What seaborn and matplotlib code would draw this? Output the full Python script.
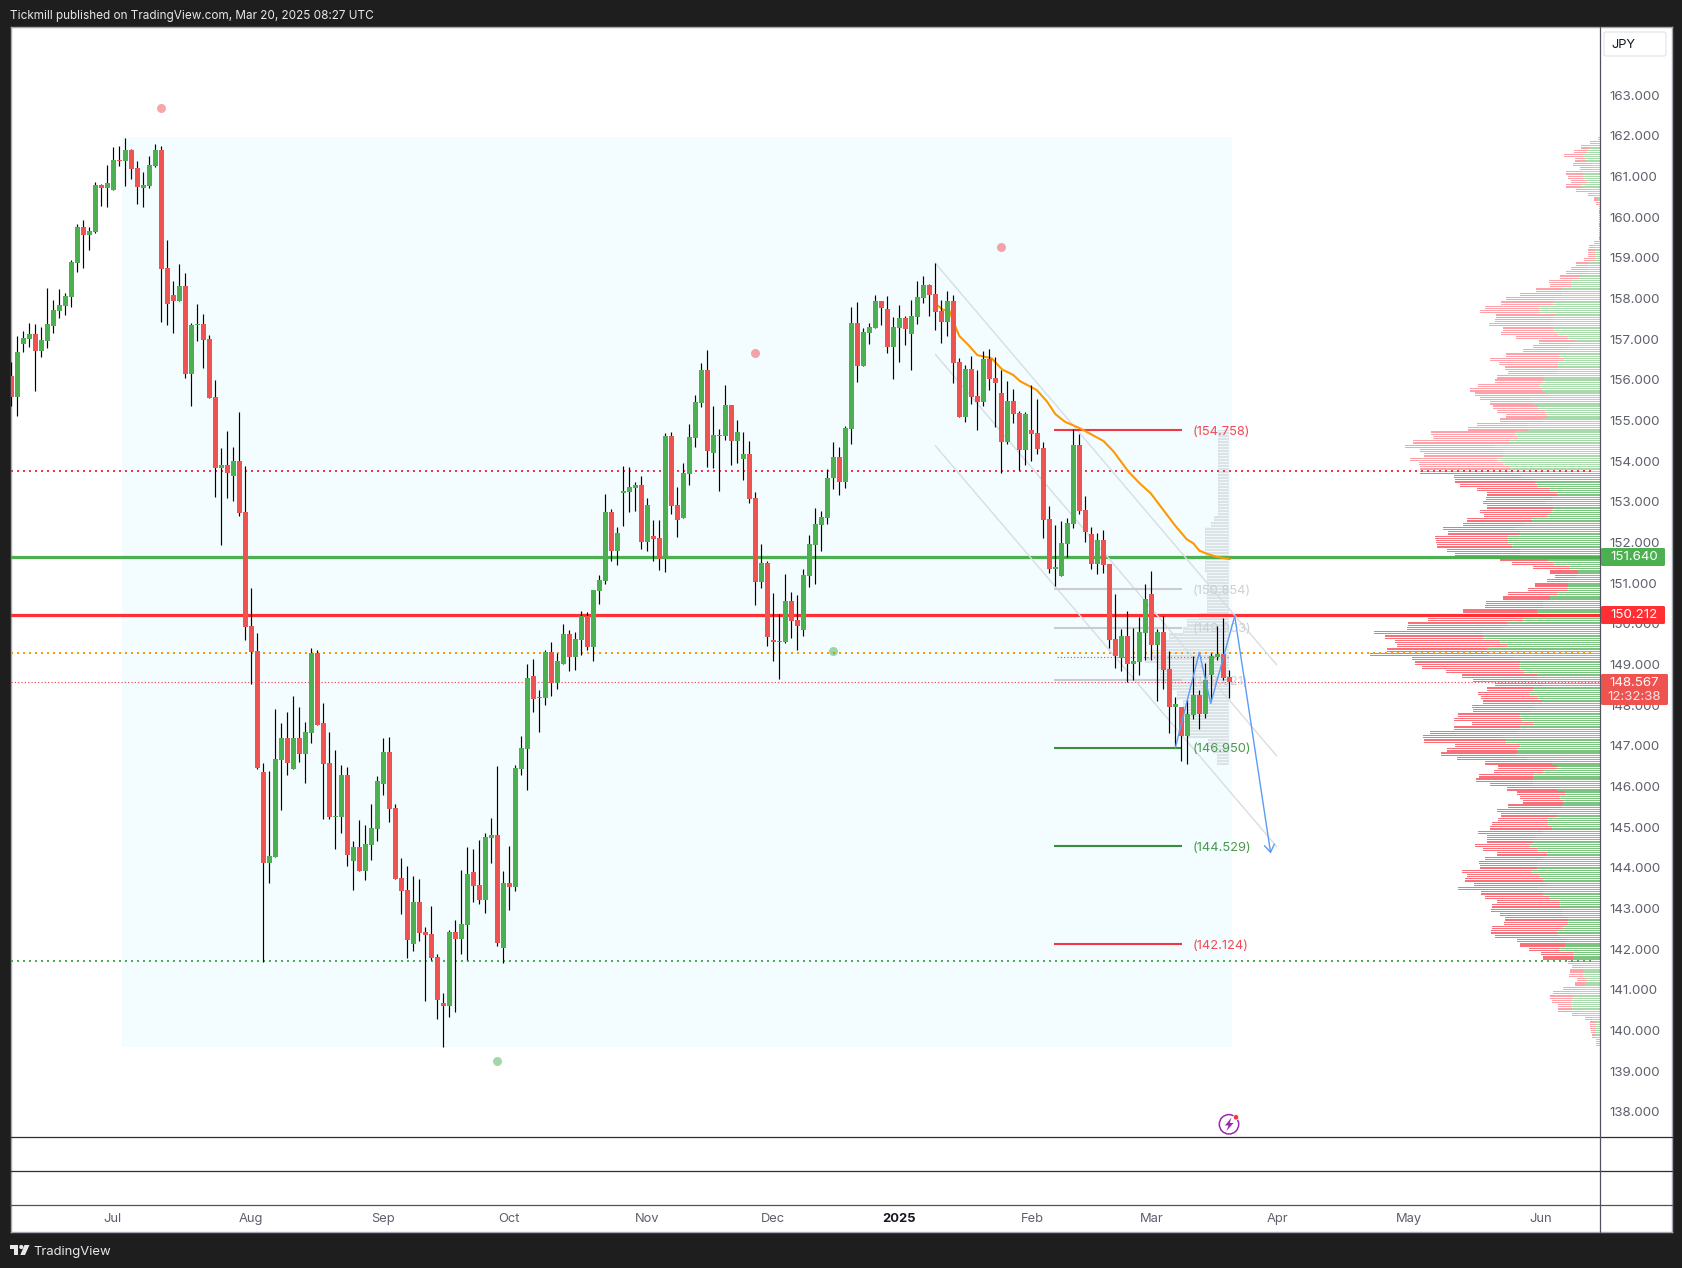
"""
USDJPY style daily candle chart with volume profile, drawn from values read off the picture.
"""

import numpy as np
import matplotlib.pyplot as plt
import seaborn as sns
from matplotlib.patches import Circle, FancyBboxPatch, Polygon, Rectangle
from matplotlib.transforms import blended_transform_factory

bar_open = [
    156.10, 155.59, 156.88, 157.01, 157.13, 156.71, 156.96, 157.33, 157.70, 157.82,
    158.04, 158.88, 159.76, 159.57, 159.64, 160.80, 160.72, 160.67, 161.41, 161.39,
    161.66, 161.21, 160.72, 160.77, 161.26, 161.66, 158.75, 158.09, 157.94, 158.31,
    156.15, 157.35, 157.37, 157.01, 155.58, 153.83, 153.91, 153.64, 154.01, 152.75,
    149.95, 149.33, 146.35, 144.11, 144.26, 146.65, 147.19, 146.43, 147.19, 146.80,
    147.31, 149.28, 147.56, 146.58, 145.25, 145.25, 146.28, 144.16, 144.51, 143.92,
    144.56, 144.95, 146.06, 146.85, 145.47, 143.75, 143.45, 142.12, 143.16, 142.42,
    142.37, 141.80, 140.67, 140.60, 142.42, 142.25, 142.59, 143.89, 143.57, 143.21,
    144.73, 144.80, 142.02, 143.62, 143.52, 146.43, 146.92, 148.71, 148.17, 148.17,
    149.31, 148.54, 149.01, 149.75, 149.18, 149.60, 150.19, 149.43, 150.80, 151.05,
    152.75, 151.79, 153.22, 153.24, 153.34, 153.42, 152.01, 152.16, 152.11, 151.60,
    154.62, 152.92, 152.61, 153.69, 154.57, 155.43, 156.25, 154.20, 154.62, 154.62,
    155.38, 154.50, 154.06, 154.18, 153.10, 151.03, 151.50, 149.60, 149.55, 149.55,
    150.56, 150.09, 149.85, 151.18, 151.94, 152.43, 152.61, 153.59, 154.11, 153.49,
    154.79, 157.40, 156.34, 157.15, 157.28, 157.94, 157.74, 156.81, 157.28, 157.52,
    157.13, 157.55, 158.01, 158.33, 158.11, 157.69, 157.42, 157.94, 156.44, 155.09,
    156.27, 155.60, 155.46, 156.51, 156.05, 155.68, 154.47, 155.48, 155.19, 154.28,
    154.77, 154.69, 154.32, 152.58, 151.35, 151.18, 151.96, 152.46, 154.40, 152.80,
    152.21, 151.47, 152.06, 151.47, 149.63, 149.16, 149.70, 149.01, 149.06, 149.77,
    150.73, 149.48, 149.80, 148.89, 147.95, 147.95, 147.24, 147.76, 148.25, 147.78,
    148.74, 149.18, 149.26, 148.69,
]
bar_high = [
    156.44, 157.08, 157.20, 157.40, 157.37, 157.30, 158.26, 157.97, 158.24, 158.14,
    158.95, 159.84, 159.93, 159.76, 160.87, 160.82, 161.29, 161.73, 161.75, 161.95,
    161.68, 161.39, 161.11, 161.51, 161.80, 161.75, 159.44, 158.44, 158.85, 158.63,
    157.40, 157.87, 157.62, 157.11, 156.00, 154.33, 154.74, 154.35, 155.21, 153.88,
    150.88, 149.77, 146.58, 146.38, 147.90, 147.56, 147.83, 148.22, 147.95, 147.58,
    149.41, 149.36, 148.05, 147.34, 146.90, 146.53, 146.48, 144.66, 145.17, 145.05,
    145.57, 146.26, 147.19, 147.21, 145.57, 144.24, 144.04, 143.80, 143.72, 142.54,
    143.06, 141.88, 140.92, 142.47, 142.71, 143.94, 144.51, 144.46, 144.68, 144.85,
    145.22, 146.50, 143.92, 144.53, 146.53, 147.24, 149.01, 149.13, 148.37, 149.36,
    149.55, 149.28, 150.00, 149.85, 149.80, 150.31, 150.29, 150.83, 151.20, 153.19,
    152.83, 152.38, 153.88, 153.86, 153.49, 153.64, 153.10, 152.56, 152.56, 154.70,
    154.72, 153.37, 153.96, 154.92, 155.63, 156.42, 156.74, 155.36, 154.79, 155.88,
    155.38, 155.01, 154.72, 154.50, 153.24, 151.96, 151.55, 150.76, 150.24, 151.23,
    150.78, 150.71, 151.35, 152.19, 152.85, 152.78, 153.81, 154.47, 154.35, 154.87,
    157.79, 157.92, 157.28, 157.40, 158.09, 157.94, 158.06, 157.55, 157.84, 157.57,
    157.97, 158.43, 158.56, 158.36, 158.88, 157.97, 158.19, 158.09, 156.54, 156.37,
    156.59, 156.24, 156.71, 156.76, 156.56, 156.24, 155.97, 155.78, 155.23, 155.21,
    155.87, 155.53, 154.47, 152.90, 152.43, 152.53, 152.60, 154.79, 154.67, 153.14,
    152.38, 152.23, 152.31, 151.47, 150.73, 149.87, 150.31, 149.90, 150.17, 150.98,
    151.30, 149.87, 150.19, 149.33, 148.20, 147.95, 148.13, 149.21, 148.37, 149.04,
    149.28, 149.95, 150.14, 148.87,
]
bar_low = [
    155.36, 155.11, 156.69, 156.81, 155.73, 156.56, 156.79, 157.15, 157.52, 157.60,
    157.79, 158.66, 158.75, 159.20, 159.61, 160.28, 160.25, 160.67, 161.26, 160.77,
    160.94, 160.33, 160.25, 160.72, 161.24, 157.42, 157.35, 157.15, 157.94, 156.05,
    155.36, 156.96, 156.30, 155.56, 153.12, 151.94, 153.10, 153.02, 152.65, 149.60,
    148.52, 146.43, 141.68, 143.62, 144.26, 145.42, 146.28, 146.43, 146.60, 146.08,
    147.07, 147.51, 145.20, 145.20, 144.46, 144.85, 144.04, 143.45, 143.92, 143.70,
    144.19, 144.66, 145.79, 145.13, 143.72, 142.86, 141.78, 141.95, 142.20, 140.72,
    141.73, 140.28, 139.59, 140.33, 140.45, 141.88, 141.73, 143.16, 143.11, 142.89,
    144.11, 142.07, 141.65, 142.96, 143.43, 146.28, 145.91, 147.83, 147.34, 148.00,
    148.22, 148.40, 149.01, 148.84, 148.86, 149.23, 149.36, 149.08, 150.49, 150.98,
    151.55, 151.45, 152.41, 152.75, 152.78, 151.84, 151.79, 151.55, 151.33, 151.27,
    152.70, 152.14, 152.61, 153.42, 154.35, 155.34, 153.86, 153.84, 153.27, 154.52,
    153.91, 153.96, 153.54, 152.97, 150.46, 150.88, 149.45, 149.09, 148.64, 149.53,
    149.65, 149.36, 149.70, 150.91, 150.98, 151.79, 152.46, 153.32, 153.17, 153.34,
    154.42, 155.95, 156.34, 156.88, 157.28, 157.35, 156.66, 156.02, 156.44, 156.86,
    156.24, 157.38, 157.89, 157.57, 157.23, 156.91, 157.08, 155.92, 155.09, 154.97,
    155.41, 154.77, 155.36, 155.75, 154.84, 153.71, 154.42, 154.94, 153.78, 153.91,
    154.00, 154.18, 152.11, 151.25, 150.93, 151.18, 151.64, 152.36, 152.70, 152.01,
    151.35, 151.23, 151.25, 149.41, 148.91, 148.84, 148.57, 148.62, 148.74, 149.11,
    149.11, 148.10, 148.40, 147.31, 146.97, 146.63, 146.55, 147.66, 147.41, 147.68,
    148.12, 149.11, 148.62, 148.17,
]
bar_close = [
    155.59, 156.69, 157.03, 157.13, 156.71, 156.98, 157.37, 157.72, 157.84, 158.07,
    158.90, 159.76, 159.57, 159.66, 160.80, 160.72, 160.84, 161.41, 161.39, 161.66,
    161.19, 160.75, 160.80, 161.29, 161.66, 158.73, 157.87, 157.94, 158.31, 156.15,
    157.35, 157.37, 156.98, 155.56, 153.83, 153.91, 153.71, 154.01, 152.73, 149.92,
    149.31, 146.45, 144.11, 144.29, 146.67, 147.19, 146.58, 147.19, 146.80, 147.34,
    149.28, 147.51, 146.55, 145.25, 145.27, 146.28, 144.31, 144.51, 143.92, 144.58,
    144.98, 146.13, 146.85, 145.44, 143.72, 143.43, 142.22, 143.16, 142.39, 142.34,
    141.78, 140.75, 140.60, 142.42, 142.25, 142.61, 143.84, 143.55, 143.21, 144.75,
    144.80, 142.15, 143.62, 143.52, 146.45, 146.94, 148.67, 148.15, 148.20, 149.31,
    148.54, 149.08, 149.75, 149.18, 149.63, 150.19, 149.43, 150.83, 151.08, 152.75,
    151.79, 152.24, 153.27, 153.37, 153.42, 152.01, 152.92, 152.09, 151.60, 154.62,
    152.90, 152.56, 153.71, 154.60, 155.46, 156.25, 154.25, 154.65, 154.65, 155.38,
    154.50, 154.72, 154.18, 153.07, 151.03, 151.50, 149.68, 149.55, 149.58, 150.56,
    150.07, 149.95, 151.20, 151.96, 152.46, 152.63, 153.59, 154.11, 153.49, 154.82,
    157.40, 156.34, 157.18, 157.30, 157.94, 157.77, 156.81, 157.30, 157.52, 157.25,
    157.57, 158.04, 158.33, 158.09, 157.67, 157.42, 157.94, 156.42, 155.09, 156.27,
    155.58, 155.46, 156.51, 156.02, 155.92, 154.47, 155.48, 155.16, 154.28, 155.16,
    154.67, 154.30, 152.55, 151.35, 151.40, 151.99, 152.48, 154.40, 152.78, 152.26,
    151.47, 152.06, 151.45, 149.60, 149.21, 149.70, 149.01, 149.08, 149.80, 150.61,
    149.48, 149.80, 148.87, 147.95, 148.03, 147.24, 147.78, 148.25, 147.78, 148.62,
    149.21, 149.26, 148.67, 148.567,
]

# right hand volume profile, top to bottom (total and buy volume per row)
vol_upper = [2, 10, 19, 26, 36, 25, 27, 20, 34, 32, 29, 34, 24, 12, 6, 4, 1, 1, 1, 1, 1, 1, 1, 1,
             6, 11, 12, 12, 16, 24, 29, 34, 40, 51, 50, 64, 80, 94, 99, 115, 120, 104, 105, 111,
             97, 99, 84, 61, 67, 77, 94, 110, 101, 95, 92, 103, 105, 122, 130, 125, 120, 110,
             107, 103, 94, 100, 123, 132, 169, 167, 187]
buy_upper = [1, 4, 11, 13, 17, 14, 8, 7, 17, 17, 13, 18, 12, 7, 2, 1, .5, .5, .5, .5, .5, .5, .5, .5,
             2, 5, 5, 5, 5, 12, 12, 12, 20, 28, 28, 38, 38, 44, 47, 61, 61, 45, 47, 50,
             47, 43, 32, 25, 30, 37, 41, 37, 43, 42, 42, 56, 57, 60, 58, 55, 70, 67,
             62, 55, 52, 57, 72, 72, 85, 82, 90]
vol_middle = [195, 180, 176, 190, 181, 180, 180, 146, 145, 140, 123, 113, 114, 117, 113, 120, 116,
              133, 137, 157, 152, 165, 164, 163, 153, 145, 100, 88, 67, 50, 45, 53, 65, 72, 92,
              97, 114, 115, 137, 150, 172, 192, 193, 226, 215, 205, 203, 213, 230, 188, 185, 178,
              154, 138, 127, 105, 113, 122, 119, 117, 128, 127, 142, 146, 128, 146, 170, 177]
buy_middle = [105, 97, 97, 103, 97, 90, 90, 78, 65, 63, 50, 43, 48, 55, 47, 48, 52,
              68, 75, 85, 80, 92, 92, 88, 80, 80, 52, 47, 30, 22, 23, 32, 32, 32, 43,
              50, 57, 57, 63, 57, 77, 93, 97, 118, 117, 100, 93, 113, 112, 87, 80, 80,
              77, 63, 63, 57, 67, 70, 62, 58, 67, 70, 80, 78, 67, 80, 83, 97]
vol_lower = [176, 145, 153, 159, 143, 115, 102, 106, 121, 124, 110, 93, 83, 80, 77, 92, 103, 99,
             102, 108, 110, 122, 113, 113, 125, 117, 103, 115, 121, 120, 138, 133, 135, 126, 142,
             119, 115, 103, 108, 109, 100, 95, 96, 108, 109, 105, 83, 80, 71, 59, 57, 32, 28, 30,
             31, 23, 25, 37, 47, 50, 48, 42, 42, 28, 15, 10, 10, 9, 8, 4, 4]
buy_lower = [94, 80, 83, 83, 73, 48, 43, 57, 67, 67, 67, 43, 35, 40, 37, 38, 51, 43,
             52, 53, 48, 58, 65, 67, 70, 63, 53, 58, 63, 63, 68, 60, 57, 53, 62,
             57, 50, 41, 40, 38, 38, 32, 32, 37, 43, 41, 35, 35, 40, 27, 27, 20, 17, 17,
             17, 12, 15, 23, 30, 27, 29, 29, 28, 22, 8, 4, 4, 4, 4, 2, 1]

# small visible range profile behind the last candles
range_price = [154.77, 152.64, 152.51, 152.39, 151.24, 150.26, 150.13, 149.93, 149.77, 149.60, 149.36,
               149.19, 149.03, 148.86, 148.62, 148.37, 148.13, 147.88, 147.55, 147.31, 147.18,
               146.98, 146.81, 146.53]
range_width = [1.95, 2.6, 3.0, 4.0, 3.8, 5.0, 7.0, 7.8, 10.0, 11.0, 13.2, 14.0, 12.0, 11.5, 10.0, 8.7,
               7.8, 7.5, 7.3, 7.0, 3.5, 2.7, 2.0, 2.0]

ma_bar = [154.3, 155.3, 156.3, 157.0, 158.0, 159.5, 161.0, 163.4, 165.1, 167.0, 168.1, 170.9, 172.6,
          174.0, 175.6, 178.1, 182.0, 183.7, 186.2, 188.1, 189.9, 192.0, 193.9, 195.9, 197.0, 198.0,
          199.5, 200.9, 203.1]
ma_price = [157.84, 157.72, 157.72, 157.43, 157.08, 156.86, 156.61, 156.53, 156.26, 156.12, 155.97,
            155.75, 155.47, 155.16, 154.97, 154.81, 154.50, 154.24, 153.74, 153.45, 153.21, 152.80,
            152.43, 152.08, 151.98, 151.80, 151.71, 151.65, 151.59]

arrow_bar = [194.0, 198.0, 199.9, 203.9, 209.9]
arrow_price = [146.95, 149.30, 148.04, 150.19, 144.35]

channel_bar = [154.0, 210.9]
channel_upper = [158.87, 148.99]
channel_middle = [156.63, 146.75]
channel_lower = [154.38, 144.52]

pivot_high_bar = [24.95, 123.9, 164.9]
pivot_high_price = [162.68, 156.65, 159.28]
pivot_low_bar = [80.9, 136.9]
pivot_low_price = [139.24, 149.33]

target_levels = [154.758, 150.854, 149.903, 148.621, 146.950, 144.529, 142.124]
target_labels = ["(154.758)", "(150.854)", "(149.903)", "(148.621)", "(146.950)", "(144.529)", "(142.124)"]
target_colors = ["#f23645", "#c9ccd1", "#c9ccd1", "#c9ccd1", "#388e3c", "#388e3c", "#f23645"]

month_pos = [16.9, 39.9, 61.9, 82.9, 105.9, 127.0, 147.9, 170.1, 190.1, 211.0, 232.9, 254.9]
month_labels = ["Jul", "Aug", "Sep", "Oct", "Nov", "Dec", "2025", "Feb", "Mar", "Apr", "May", "Jun"]
price_ticks = list(range(138, 164))

GREEN = "#4caf50"
RED = "#ef5350"
SHADE = "#f3fcfe"
W, H = 1682, 1268
LEFT, RIGHT, TOP, CHART_BOTTOM = 10.5, 1600, 27, 1137.3


def px_rect(x0, y0, x1, y1):
    return [x0 / W, 1 - y1 / H, (x1 - x0) / W, (y1 - y0) / H]


sns.set_theme(style="white")
plt.rcParams["font.family"] = ["Inter", "DejaVu Sans"]

fig = plt.figure(figsize=(W / 100, H / 100), dpi=100, facecolor="#1e1e1e")

# white panel everything sits on
ax_bg = fig.add_axes(px_rect(LEFT, TOP, 1671.7, 1232), zorder=0)
ax_bg.set_xticks([])
ax_bg.set_yticks([])
ax_bg.set_facecolor("white")
for s in ax_bg.spines.values():
    s.set_color("#a3a6af")
    s.set_linewidth(1)

xlim = (-0.14, 264.78)
ylim = (137.37, 164.68)

# volume profile goes under the main axes
ax_vp = fig.add_axes(px_rect(LEFT, TOP, RIGHT, CHART_BOTTOM), zorder=1)
ax_vp.patch.set_alpha(0)
ax_vp.axis("off")
ax_vp.set_xlim(RIGHT - LEFT, 0)
ax_vp.set_ylim(*ylim)

vol_total = np.repeat(vol_upper + vol_middle + vol_lower, 2)
vol_buy = np.repeat(buy_upper + buy_middle + buy_lower, 2)
vol_price = np.linspace(161.97, 139.62, len(vol_total))
in_value_area = (vol_price <= 153.74) & (vol_price >= 141.70)
ax_vp.barh(vol_price, vol_total, height=0.03, linewidth=0, antialiased=False,
           color=np.where(in_value_area, "#f8707a", "#fca2a8"))
ax_vp.barh(vol_price, vol_buy, height=0.03, linewidth=0, antialiased=False,
           color=np.where(in_value_area, "#7cc480", "#a8daab"))

ax = fig.add_axes(px_rect(LEFT, TOP, RIGHT, CHART_BOTTOM), zorder=2)
ax.patch.set_alpha(0)
ax.set_xlim(*xlim)
ax.set_ylim(*ylim)

# shaded range of the profile
ax.add_patch(Rectangle((18.44, 139.59), 203.4 - 18.44, 161.98 - 139.59, color=SHADE, lw=0, zorder=0))
right_edge = 203.0
ax.fill_betweenx(range_price, right_edge - np.array(range_width), right_edge, step="post",
                 color="#dbe3e7", lw=0, zorder=1)
# the rows of that profile are striped too
stripe_price = np.arange(146.53, 154.77, 0.074)
stripe_rows = np.searchsorted(-np.array(range_price), -stripe_price) - 1
ax.hlines(stripe_price, right_edge - np.array(range_width)[stripe_rows], right_edge, color=SHADE,
          lw=0.6, zorder=1)

# horizontal levels
ax.axhline(151.64, color=GREEN, lw=2.3, zorder=2)
ax.axhline(150.212, color="#ff2f33", lw=2.3, zorder=2)
ax.axhline(153.75, color="#f23645", lw=1.44, ls=(0, (1, 2)), zorder=2, xmax=0.997)
ax.axhline(149.28, color="#ff9800", lw=1.44, ls=(0, (1, 2)), zorder=2, xmax=0.997)
ax.axhline(141.70, color=GREEN, lw=1.44, ls=(0, (1, 2)), zorder=2, xmax=0.997)
ax.axhline(148.567, color="#f23645", lw=0.8, ls=(0, (1, 2)), zorder=2)
ax.hlines(149.18, 174.3, 203.0, color="#f23645", lw=0.8, ls=(0, (1, 2)), zorder=2)

# channel
for channel in (channel_upper, channel_middle, channel_lower):
    ax.plot(channel_bar, channel, color="#dadde0", lw=1.0, zorder=2)

# targets
for level, label, color in zip(target_levels, target_labels, target_colors):
    ax.hlines(level, 173.8, 195.06, color=color, lw=1.5, zorder=3)
    ax.text(196.95, level - 0.04, label, color=color, fontsize=9.3, va="center", ha="left", zorder=3, alpha=0.9)

sns.lineplot(x=ma_bar, y=ma_price, sort=False, estimator=None, color="#ff9800", lw=1.5, ax=ax, zorder=3)

sns.scatterplot(x=pivot_high_bar, y=pivot_high_price, s=42, color="#f23645", alpha=0.45,
                linewidth=0, ax=ax, zorder=3)
sns.scatterplot(x=pivot_low_bar, y=pivot_low_price, s=42, color=GREEN, alpha=0.5,
                linewidth=0, ax=ax, zorder=3)

# candles
bars = np.arange(len(bar_open))
opens = np.array(bar_open)
closes = np.array(bar_close)
colors = np.where(closes >= opens, GREEN, RED)
ax.vlines(bars, bar_low, bar_high, color="black", lw=0.85, zorder=4)
ax.bar(bars, np.maximum(np.abs(closes - opens), 0.025), bottom=np.minimum(opens, closes),
       width=0.83, color=colors, linewidth=0, zorder=5)

# drawn projection, the last leg is the arrow
sns.lineplot(x=arrow_bar[:-1], y=arrow_price[:-1], sort=False, estimator=None, color="#5b9cf6", lw=1.0,
             ax=ax, zorder=6)
ax.annotate("", xy=(arrow_bar[-1], arrow_price[-1]), xytext=(arrow_bar[-2], arrow_price[-2]),
            arrowprops=dict(arrowstyle="->,head_length=0.45,head_width=0.3", color="#5b9cf6", lw=1.0,
                            shrinkA=0, shrinkB=0), zorder=6)

ax.yaxis.tick_right()
ax.set_yticks(price_ticks, [f"{p:.3f}" for p in price_ticks])
ax.set_xticks([])
ax.tick_params(axis="y", length=0, pad=7, labelsize=9.6, labelcolor="#5d606b")
for s in ax.spines.values():
    s.set_visible(False)

# time axis
ax_time = fig.add_axes(px_rect(LEFT, 1205.3, RIGHT, 1232), zorder=2)
ax_time.patch.set_alpha(0)
ax_time.axis("off")
ax_time.set_xlim(*xlim)
time_trans = blended_transform_factory(ax_time.transData, ax_time.transAxes)
for pos, label in zip(month_pos, month_labels):
    ax_time.text(pos, 0.5, label, transform=time_trans, ha="center", va="center", fontsize=9.3,
                 color="#131722" if label == "2025" else "#5d606b",
                 fontweight="bold" if label == "2025" else "normal")

# chrome, in pixel coordinates
ov = fig.add_axes([0, 0, 1, 1], zorder=5)
ov.patch.set_alpha(0)
ov.axis("off")
ov.set_xlim(0, W)
ov.set_ylim(H, 0)

for y, color in ((1137.3, "#2a2e39"), (1171.3, "#2a2e39"), (1205.3, "#50535e")):
    ov.plot([LEFT, 1671.7], [y, y], color=color, lw=0.9)
ov.plot([RIGHT, RIGHT], [TOP, 1232], color="#50535e", lw=0.9)


def badge(y0, y1, color, x1=1665):
    ov.add_patch(FancyBboxPatch((1601, y0), x1 - 1601, y1 - y0, boxstyle="round,pad=0,rounding_size=1.5",
                                fc=color, ec="none", zorder=3))


badge(548, 566, GREEN)
ov.text(1634, 557.5, "151.640", color="white", fontsize=9.6, ha="center", va="center", zorder=4)
badge(606, 624, "#ff2f33")
ov.text(1634, 615.5, "150.212", color="white", fontsize=9.6, ha="center", va="center", zorder=4)
badge(674, 705, RED, x1=1668)
ov.text(1634, 682.5, "148.567", color="white", fontsize=9.6, ha="center", va="center", zorder=4)
ov.text(1634, 696.5, "12:32:38", color="#ffe3e3", fontsize=9.6, ha="center", va="center", zorder=4)

ov.add_patch(FancyBboxPatch((1604, 32), 62, 24, boxstyle="round,pad=0,rounding_size=2",
                            fc="white", ec="#e0e3eb", lw=0.8))
ov.text(1623, 45, "JPY", color="#131722", fontsize=9.2, ha="center", va="center")

ov.text(10, 16, "Tickmill published on TradingView.com, Mar 20, 2025 08:27 UTC", color="#e8e8e8",
        fontsize=8.48, ha="left", va="center")

# logo
ov.add_patch(Polygon([(10, 1245), (18.5, 1245), (18.5, 1255), (14, 1255), (14, 1249), (10, 1249)],
                     fc="#e8e8e8", ec="none"))
ov.add_patch(Circle((21.3, 1247), 2.1, fc="#e8e8e8", ec="none"))
ov.add_patch(Polygon([(24.5, 1245), (29.5, 1245), (25, 1255), (20.3, 1255)], fc="#e8e8e8", ec="none"))
ov.text(33, 1251.5, "TradingView", color="#e8e8e8", fontsize=9.4, ha="left", va="center")

# bolt icon
ov.add_patch(Circle((1229, 1124.3), 9.7, fc="white", ec="#9c27b0", lw=1.1))
ov.add_patch(Polygon([(1231.5, 1117.5), (1225, 1125.5), (1228.5, 1125.5), (1226.5, 1131), (1233.5, 1123),
                      (1229.8, 1123)], fc="#9c27b0", ec="none"))
ov.add_patch(Circle((1236, 1117.3), 2.7, fc="#f23645", ec="white", lw=0.5))

fig.savefig("out.png", dpi=100, facecolor=fig.get_facecolor())
plt.close(fig)
